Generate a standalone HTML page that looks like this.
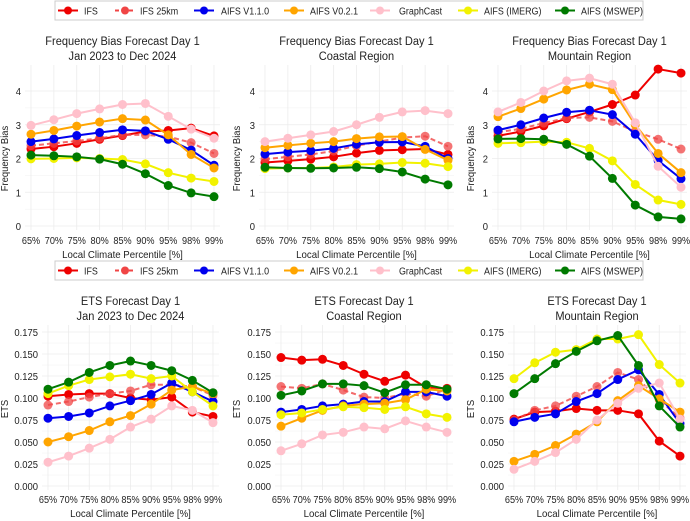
<!DOCTYPE html><html><head><meta charset="utf-8"><style>body{margin:0;background:#fff}svg{display:block;font-family:"Liberation Sans",sans-serif}</style></head><body>
<svg id="s" width="690" height="521" viewBox="0 0 690 521"></svg>
<script>
const S=document.getElementById('s');let h='';
const C=['#ee0000','#f04545','#0000ee','#ffa500','#ffc0cb','#f2f200','#007a00'];
const N=['IFS','IFS 25km','AIFS V1.1.0','AIFS V0.2.1','GraphCast','AIFS (IMERG)','AIFS (MSWEP)'];
const X=['65%','70%','75%','80%','85%','90%','95%','98%','99%'];
function t(x,y,s,fs,anc,sx){return `<text transform="translate(${x},${y}) scale(${sx||0.87},1)" font-size="${fs}" text-anchor="${anc||'start'}" fill="#222">${s}</text>`;}
function legend(y){h+=`<rect x="55" y="${y}" width="588" height="19" fill="#fff" stroke="#ccc"/>`;
const ls=[58,115,194,284,370,458,555],ts=[84,140,221,310,399,484,581];
N.forEach((n,i)=>{let x=ls[i];h+=`<line x1="${x}" y1="${y+9.5}" x2="${x+20}" y2="${y+9.5}" stroke="${C[i]}" stroke-width="2" ${i==1?'stroke-dasharray="4,3"':''}/><circle cx="${x+10}" cy="${y+9.5}" r="4" fill="${C[i]}"/>`+t(ts[i],y+13.5,n,10.5,'start',0.85);});}
function panel(x0,x1,y0,yv0,ypu,ticks,fmt,title,ylab,data,top,bot){
 const dx=(x1-x0)/8;
 for(let v=0;v<=ticks.max+1e-9;v+=ticks.step/2){let y=y0-(v*ypu);h+=`<line x1="${x0-6}" y1="${y}" x2="${x1+6}" y2="${y}" stroke="#ececec" stroke-width="${Math.abs(v/ticks.step-Math.round(v/ticks.step))<1e-6?0.8:0.4}"/>`;}
 for(let i=0;i<9;i++){let x=x0+i*dx;h+=`<line x1="${x}" y1="${top}" x2="${x}" y2="${y0+4}" stroke="#ececec" stroke-width="0.8"/>`+t(x,bot,X[i],10.5,'middle',0.87);}
 for(let v=0;v<=ticks.max+1e-9;v+=ticks.step){let y=y0-v*ypu;h+=t(x0-10,y+4,fmt(v),10.5,'end',0.9);}
 h+=t((x0+x1)/2,bot+14,'Local Climate Percentile [%]',10.5,'middle',0.92);
 h+=t((x0+x1)/2,top-20,title[0],12,'middle',0.92)+t((x0+x1)/2,top-5,title[1],12,'middle',0.92);
 h+=`<text transform="translate(${ylab},${y0-ticks.max*ypu/2}) rotate(-90) scale(0.9,1)" font-size="10.5" text-anchor="middle" fill="#222">${ticks.lab}</text>`;
 data.forEach((d,i)=>{let p=d.map((v,j)=>[x0+j*dx,y0-v*ypu]);
  h+=`<polyline points="${p.map(q=>q.join(',')).join(' ')}" fill="none" stroke="${C[i]}" stroke-width="2" ${i==1?'stroke-dasharray="5,3" opacity="0.8"':''}/>`;
  p.forEach(q=>h+=`<circle cx="${q[0]}" cy="${q[1]}" r="4.5" fill="${C[i]}" ${i==1?'opacity="0.75"':''}/>`);});
}
const T={max:4,step:1,lab:'Frequency Bias'},E={max:0.175,step:0.025,lab:'ETS'};
const f1=v=>Math.round(v),f2=v=>v.toFixed(3);
const P1=[[2.28,2.35,2.45,2.57,2.68,2.80,2.83,2.90,2.67],[2.38,2.45,2.52,2.6,2.7,2.7,2.65,2.47,2.15],[2.5,2.58,2.68,2.77,2.85,2.82,2.57,2.25,1.8],[2.72,2.83,2.96,3.08,3.18,3.14,2.7,2.12,1.72],[2.98,3.15,3.33,3.47,3.6,3.63,3.25,2.87,2.6],[1.99,2.0,2.02,2.0,1.97,1.84,1.58,1.42,1.32],[2.1,2.08,2.05,1.98,1.83,1.55,1.2,0.98,0.87]];
const P2=[[1.88,1.93,1.98,2.05,2.16,2.24,2.26,2.28,2.12],[1.98,2.05,2.12,2.22,2.38,2.5,2.62,2.66,2.36],[2.13,2.19,2.23,2.3,2.42,2.48,2.49,2.36,2.0],[2.32,2.39,2.45,2.5,2.59,2.64,2.65,2.27,1.95],[2.5,2.6,2.7,2.8,3.0,3.22,3.38,3.42,3.33],[1.7,1.72,1.72,1.75,1.82,1.84,1.88,1.86,1.76],[1.74,1.72,1.71,1.72,1.74,1.7,1.6,1.39,1.22]];
const P3=[[2.67,2.8,2.97,3.18,3.38,3.6,3.88,4.65,4.53],[2.78,2.88,3.05,3.2,3.22,3.1,2.8,2.57,2.28],[2.84,3.0,3.2,3.37,3.43,3.3,2.72,1.94,1.4],[3.24,3.48,3.76,4.03,4.2,4.04,3.0,2.15,1.58],[3.38,3.66,4.0,4.3,4.38,4.2,3.06,1.77,1.15],[2.45,2.47,2.5,2.48,2.3,1.93,1.23,0.77,0.64],[2.58,2.59,2.57,2.42,2.07,1.41,0.62,0.27,0.21]];
const E1=[[.102,.104,.105,.105,.100,.098,.101,.084,.079],[.092,.096,.101,.105,.108,.115,.115,.113,.103],[.077,.079,.083,.091,.097,.104,.117,.107,.096],[.050,.056,.063,.073,.080,.093,.109,.113,.105],[.027,.034,.043,.053,.067,.076,.091,.086,.072],[.105,.114,.121,.124,.127,.122,.125,.107,.091],[.110,.118,.129,.137,.142,.137,.131,.120,.106]];
const E2=[[.146,.143,.144,.137,.127,.119,.126,.112,.111],[.113,.111,.116,.109,.101,.100,.105,.102,.110],[.084,.087,.091,.093,.096,.096,.107,.107,.102],[.068,.077,.086,.091,.093,.094,.098,.110,.108],[.040,.048,.058,.061,.067,.065,.074,.067,.061],[.081,.083,.087,.090,.089,.087,.090,.082,.078],[.103,.108,.116,.116,.114,.106,.115,.115,.110]];
const E3=[[.076,.084,.085,.088,.086,.086,.082,.051,.034],[.075,.086,.091,.102,.113,.129,.121,.098,.077],[.073,.078,.082,.096,.105,.121,.132,.104,.071],[.028,.036,.046,.059,.073,.097,.114,.099,.084],[.019,.028,.038,.053,.075,.094,.111,.117,.076],[.122,.140,.152,.155,.167,.167,.172,.138,.117],[.105,.122,.139,.153,.165,.171,.137,.091,.067]];
legend(1);legend(261);
const tp=33.75,ep=154/0.175;
panel(31,214,226,0,tp,T,f1,['Frequency Bias Forecast Day 1','Jan 2023 to Dec 2024'],8,P1,65,244);
panel(265,448,226,0,tp,T,f1,['Frequency Bias Forecast Day 1','Coastal Region'],240,P2,65,244);
panel(498,681,226,0,tp,T,f1,['Frequency Bias Forecast Day 1','Mountain Region'],474,P3,65,244);
panel(48,213,486,0,ep,E,f2,['ETS Forecast Day 1','Jan 2023 to Dec 2024'],8,E1,325,503);
panel(281,447,486,0,ep,E,f2,['ETS Forecast Day 1','Coastal Region'],240,E2,325,503);
panel(514,680,486,0,ep,E,f2,['ETS Forecast Day 1','Mountain Region'],474,E3,325,503);
S.innerHTML=h;
</script></body></html>
